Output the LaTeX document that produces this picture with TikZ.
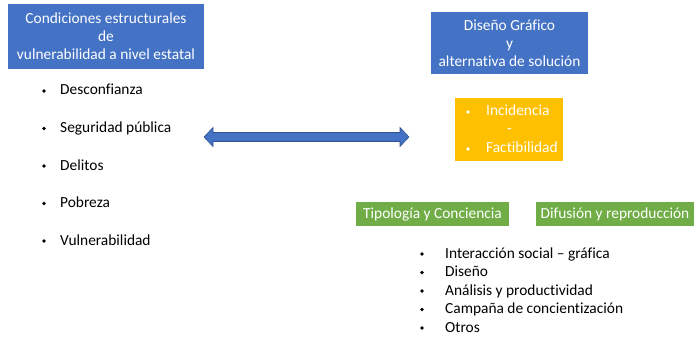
\documentclass[tikz,border=0pt]{standalone}
\usepackage{fontspec}
\setmainfont[RawFeature=-liga]{Carlito}
\usetikzlibrary{calc}

\definecolor{boxblue}{HTML}{4472C4}
\definecolor{edgeblue}{HTML}{2F528F}
\definecolor{boxyellow}{HTML}{FFC000}
\definecolor{boxgreen}{HTML}{70AD47}

\newcommand{\txt}{\fontsize{15.4}{18}\selectfont}

\tikzset{
  titlebox/.style={fill=boxblue, text=white, align=center, inner sep=0pt, font=\txt},
  greenbox/.style={fill=boxgreen, text=white, inner sep=0pt, minimum height=24pt, font=\txt},
  listitem/.style={anchor=base west, inner sep=0pt, font=\txt},
  listdot/.style={circle, fill, inner sep=0pt, minimum size=3.6pt}
}

\begin{document}
\begin{tikzpicture}[x=1pt, y=-1pt]
  \useasboundingbox (0,0) rectangle (697,337);

  % cajas de titulo
  \node[titlebox, minimum width=196pt, minimum height=65pt] (cond) at (106,36.5)
    {Condiciones estructurales\\de\\vulnerabilidad a nivel estatal};
  \node[titlebox, minimum width=157pt, minimum height=62pt] (dis) at (509.5,43)
    {Diseño Gráfico\\y\\alternativa de solución};

  % lista izquierda
  \foreach \t [count=\i] in {Desconfianza, Seguridad pública, Delitos, Pobreza, Vulnerabilidad} {
    \node[listdot] (dl\i) at (44,{91+37.5*(\i-1)}) {};
    \node[listitem] (l\i) at (60,{90+37.5*(\i-1)+5}) {\t};
  }

  % flecha doble
  \coordinate (arrL) at (204,137);
  \coordinate (arrR) at (409,137);
  \filldraw[fill=boxblue, draw=edgeblue, line width=0.6pt]
    (arrL) -- ($(arrL)+(9,-9.5)$) -- ($(arrL)+(9,-4.5)$) -- ($(arrR)+(-9,-4.5)$)
    -- ($(arrR)+(-9,-9.5)$) -- (arrR) -- ($(arrR)+(-9,9.5)$) -- ($(arrR)+(-9,4.5)$)
    -- ($(arrL)+(9,4.5)$) -- ($(arrL)+(9,9.5)$) -- cycle;

  % caja amarilla
  \node[fill=boxyellow, minimum width=108pt, minimum height=63pt, inner sep=0pt] (inc) at (509,129.5) {};
  \node[listdot, white] at (468,112) {};
  \node[listitem, text=white] (inc1) at (486,116) {Incidencia};
  \node[listitem, text=white] (inc2) at (507,134) {-};
  \node[listdot, white] at (468,149) {};
  \node[listitem, text=white] (inc3) at (486,153) {Factibilidad};

  % cajas verdes
  \node[greenbox, minimum width=153pt] (tip) at (432.5,214) {Tipología y Conciencia};
  \node[greenbox, minimum width=158pt] (dif) at (615,214) {Difusión y reproducción};

  % lista inferior
  \foreach \t [count=\i] in {Interacción social -- gráfica, Diseño, Análisis y productividad, Campaña de concientización, Otros} {
    \node[listdot] (db\i) at (422,{254+18.5*(\i-1)}) {};
    \node[listitem] (b\i) at (445,{253+18.5*(\i-1)+5}) {\t};
  }
\end{tikzpicture}
\end{document}
